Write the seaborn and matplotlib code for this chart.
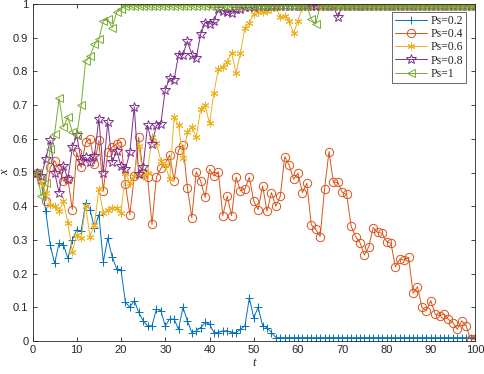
import numpy as np
import pandas as pd
import matplotlib
matplotlib.use("Agg")
import matplotlib.pyplot as plt
import seaborn as sns

t = list(range(1, 101))

ps02 = [0.5, 0.47, 0.385, 0.285, 0.23, 0.29, 0.285, 0.245, 0.30, 0.33,
        0.325, 0.41, 0.39, 0.335, 0.375, 0.235, 0.305, 0.25, 0.215, 0.21,
        0.115, 0.10, 0.12, 0.085, 0.06, 0.045, 0.045, 0.095, 0.09, 0.045,
        0.065, 0.065, 0.035, 0.10, 0.06, 0.025, 0.03, 0.04, 0.055, 0.05,
        0.025, 0.025, 0.03, 0.03, 0.025, 0.025, 0.035, 0.045, 0.128, 0.069,
        0.10, 0.045, 0.04, 0.025, 0.01, 0.01, 0.01, 0.01, 0.01, 0.01,
        0.01, 0.01, 0.01, 0.01, 0.01, 0.01, 0.01, 0.01, 0.01, 0.01,
        0.01, 0.01, 0.01, 0.01, 0.01, 0.01, 0.01, 0.01, 0.01, 0.01,
        0.01, 0.01, 0.01, 0.01, 0.01, 0.01, 0.01, 0.01, 0.01, 0.01,
        0.01, 0.01, 0.01, 0.01, 0.01, 0.01, 0.01, 0.01, 0.01, 0.01]

ps04 = [0.5, 0.48, 0.415, 0.515, 0.535, 0.51, 0.475, 0.48, 0.39, 0.56,
        0.515, 0.59, 0.6, 0.525, 0.595, 0.445, 0.56, 0.575, 0.585, 0.59,
        0.465, 0.375, 0.49, 0.605, 0.5, 0.486, 0.346, 0.486, 0.512, 0.527,
        0.552, 0.476, 0.567, 0.582, 0.455, 0.366, 0.502, 0.475, 0.426, 0.51,
        0.49, 0.502, 0.372, 0.43, 0.372, 0.486, 0.446, 0.451, 0.486, 0.415,
        0.39, 0.46, 0.385, 0.44, 0.40, 0.43, 0.547, 0.522, 0.48, 0.498,
        0.44, 0.468, 0.345, 0.332, 0.31, 0.451, 0.562, 0.471, 0.471, 0.441,
        0.435, 0.341, 0.31, 0.292, 0.255, 0.28, 0.336, 0.322, 0.32, 0.295,
        0.29, 0.22, 0.243, 0.24, 0.248, 0.142, 0.161, 0.10, 0.09, 0.12,
        0.08, 0.075, 0.08, 0.064, 0.054, 0.035, 0.06, 0.045, 0.005, 0.005]

ps06 = [0.5, 0.47, 0.44, 0.405, 0.40, 0.385, 0.415, 0.35, 0.265, 0.315,
        0.305, 0.40, 0.31, 0.345, 0.45, 0.38, 0.39, 0.395, 0.395, 0.38,
        0.5, 0.47, 0.49, 0.58, 0.49, 0.50, 0.606, 0.588, 0.535, 0.522,
        0.48, 0.665, 0.641, 0.542, 0.621, 0.636, 0.604, 0.688, 0.70, 0.646,
        0.737, 0.807, 0.814, 0.827, 0.856, 0.796, 0.854, 0.93, 0.945, 0.97,
        0.977, 0.975, 0.98, 0.985, 0.99, 0.962, 0.965, 0.95, 0.913, 0.95,
        0.99, 0.995, 0.995, 0.995, 0.995, 0.995, 0.995, 0.995, 0.995, 0.995,
        0.995, 0.995, 0.995, 0.995, 0.995, 0.995, 0.995, 0.995, 0.995, 0.995,
        0.995, 0.995, 0.995, 0.995, 0.995, 0.995, 0.995, 0.995, 0.995, 0.995,
        0.995, 0.995, 0.995, 0.995, 0.995, 0.995, 0.995, 0.995, 0.995, 0.995]

ps08 = [0.5, 0.49, 0.54, 0.595, 0.50, 0.44, 0.52, 0.48, 0.575, 0.61,
        0.535, 0.545, 0.53, 0.55, 0.66, 0.50, 0.65, 0.53, 0.565, 0.52,
        0.51, 0.56, 0.695, 0.495, 0.515, 0.64, 0.585, 0.64, 0.645, 0.745,
        0.78, 0.775, 0.85, 0.85, 0.89, 0.85, 0.84, 0.91, 0.945, 0.94,
        0.95, 0.985, 0.98, 0.975, 0.972, 0.985, 0.985, 0.99, 0.99, 0.99,
        0.995, 0.995, 0.995, 0.995, 0.995, 0.995, 0.995, 0.995, 0.995, 0.995,
        0.995, 0.995, 0.995, 0.995, 0.995, 0.995, 0.995, 0.995, 0.96, 0.995,
        0.995, 0.995, 0.995, 0.995, 0.995, 0.995, 0.995, 0.995, 0.995, 0.995,
        0.995, 0.995, 0.995, 0.995, 0.995, 0.995, 0.995, 0.995, 0.995, 0.995,
        0.995, 0.995, 0.995, 0.995, 0.995, 0.995, 0.995, 0.995, 0.995, 0.995]

ps1 = [0.5, 0.43, 0.47, 0.57, 0.615, 0.72, 0.635, 0.665, 0.62, 0.61,
       0.70, 0.83, 0.845, 0.88, 0.895, 0.95, 0.955, 0.93, 0.975, 0.985,
       0.995, 0.995, 0.995, 0.995, 0.995, 0.995, 0.995, 0.995, 0.995, 0.995,
       0.995, 0.995, 0.995, 0.995, 0.995, 0.995, 0.995, 0.995, 0.995, 0.995,
       0.995, 0.995, 0.995, 0.995, 0.995, 0.995, 0.995, 0.995, 0.995, 0.995,
       0.995, 0.995, 0.995, 0.995, 0.995, 0.995, 0.995, 0.995, 0.995, 0.995,
       0.995, 0.995, 0.955, 0.94, 0.995, 0.995, 0.995, 0.995, 0.995, 0.995,
       0.995, 0.995, 0.995, 0.995, 0.995, 0.995, 0.995, 0.995, 0.995, 0.995,
       0.995, 0.995, 0.995, 0.995, 0.995, 0.995, 0.995, 0.995, 0.995, 0.995,
       0.995, 0.995, 0.995, 0.995, 0.995, 0.995, 0.995, 0.995, 0.995, 0.995]

labels = ["Ps=0.2", "Ps=0.4", "Ps=0.6", "Ps=0.8", "Ps=1"]
series = [ps02, ps04, ps06, ps08, ps1]
colors = ["#0072BD", "#D95319", "#EDB120", "#7E2F8E", "#77AC30"]
markers = ["+", "o", (6, 2, 0), "*", "<"]
msizes = [6, 6, 5.5, 7, 6]

sns.set_style("ticks")
plt.rcParams["font.family"] = ["Liberation Sans", "DejaVu Sans"]

fig = plt.figure(figsize=(4.84, 3.74), dpi=100)
ax = fig.add_axes([32.5 / 484, 1 - 341 / 374, (475 - 32.5) / 484, (341 - 4) / 374])

for lab, ys, c, m, ms in zip(labels, series, colors, markers, msizes):
    df = pd.DataFrame({"t": t, "x": ys})
    sns.lineplot(data=df, x="t", y="x", ax=ax, color=c, marker=m,
                 markersize=ms, markerfacecolor="none", markeredgecolor=c,
                 markeredgewidth=0.7, linewidth=0.7, label=lab)

ax.set_xlim(0, 100)
ax.set_ylim(0, 1)
ax.set_xticks(np.arange(0, 101, 10))
ax.set_yticks(np.arange(0, 1.01, 0.1))
ax.set_yticklabels(["0", "0.1", "0.2", "0.3", "0.4", "0.5", "0.6", "0.7", "0.8", "0.9", "1"])
ax.tick_params(direction="in", top=True, right=True, length=3, width=0.6,
               labelsize=8, colors="#262626", pad=3)
for sp in ax.spines.values():
    sp.set_visible(True)
    sp.set_linewidth(0.6)
    sp.set_color("#262626")

ax.set_xlabel("t", fontsize=9, family=["Liberation Serif"], style="italic", labelpad=1)
ax.set_ylabel("x", fontsize=9, family=["Liberation Serif"], style="italic")
ax.yaxis.set_label_coords(-0.048, 0.5)

leg = ax.legend(loc="upper right", bbox_to_anchor=(0.98, 0.976),
                prop={"family": "Liberation Serif", "size": 8.5},
                frameon=True, fancybox=False, edgecolor="#262626",
                handlelength=2.7, borderpad=0.25, labelspacing=0.1,
                handletextpad=0.3, borderaxespad=0)
leg.get_frame().set_linewidth(0.6)

fig.savefig("out.png", dpi=100)
